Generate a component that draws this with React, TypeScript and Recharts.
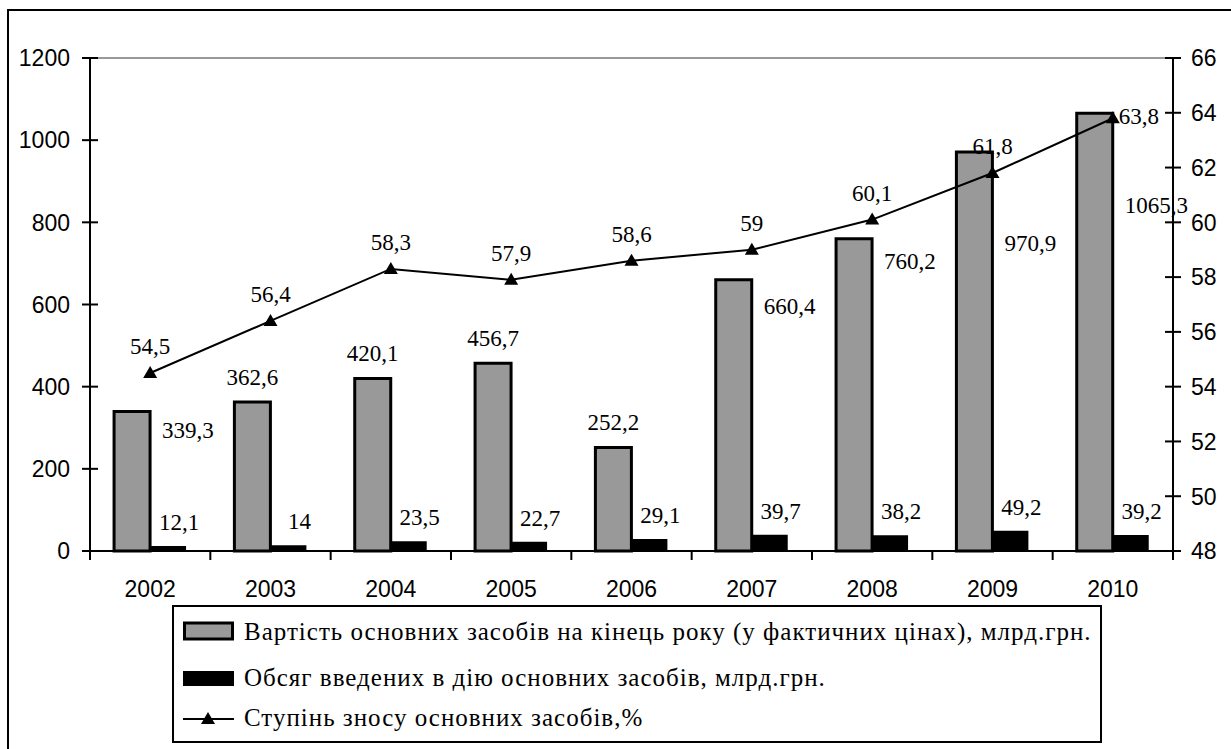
import React from "react";
import { ComposedChart, Bar, Line, XAxis, YAxis, LabelList, ReferenceLine } from "recharts";

const years = ["2002", "2003", "2004", "2005", "2006", "2007", "2008", "2009", "2010"];
const grossValue = [339.3, 362.6, 420.1, 456.7, 252.2, 660.4, 760.2, 970.9, 1065.3];
const commissioned = [12.1, 14, 23.5, 22.7, 29.1, 39.7, 38.2, 49.2, 39.2];
const depreciation = [54.5, 56.4, 58.3, 57.9, 58.6, 59, 60.1, 61.8, 63.8];
const leftTicks = [0, 200, 400, 600, 800, 1000, 1200];
const rightTicks = [48, 50, 52, 54, 56, 58, 60, 62, 64, 66];
const seriesNames = [
    "Вартість основних засобів на кінець року (у фактичних цінах), млрд.грн.",
    "Обсяг введених в дію основних засобів, млрд.грн.",
    "Ступінь зносу основних засобів,%",
];

// label placement for the grey bars: null = above the bar, number = to the right, that far below the top
const grossLabelDrop: (number | null)[] = [18, null, null, null, null, 26, 22, 91, 92];

const data = years.map((year, i) => ({
    year,
    gross: grossValue[i],
    added: commissioned[i],
    wear: depreciation[i],
}));

const W = 1231;
const H = 749;
const PLOT_L = 90;
const PLOT_R = 1173;
const PLOT_T = 58;
const PLOT_B = 551;
const PLOT_W = PLOT_R - PLOT_L;

const SANS = "'Liberation Sans', Arial, sans-serif";
const SERIF = "'Liberation Serif', 'Times New Roman', serif";
const fmt = (v: number) => String(v).replace(".", ",");

function box(p: any) {
    const vb = p.viewBox || {};
    return {
        x: p.x ?? vb.x ?? 0,
        y: p.y ?? vb.y ?? 0,
        width: p.width ?? vb.width ?? 0,
        height: p.height ?? vb.height ?? 0,
    };
}

const XTick = (props: any) => {
    const { x, y, payload } = props;
    const bw = PLOT_W / years.length;
    const last = payload.value === years[years.length - 1];
    return (
        <g>
            <line x1={x - bw / 2} x2={x - bw / 2} y1={y} y2={y + 9} stroke="#000" strokeWidth={2} />
            {last && <line x1={x + bw / 2} x2={x + bw / 2} y1={y} y2={y + 9} stroke="#000" strokeWidth={2} />}
            <text x={x} y={y + 46} textAnchor="middle" fontFamily={SANS} fontSize={23} fill="#000">
                {payload.value}
            </text>
        </g>
    );
};

const LeftTick = (props: any) => {
    const { x, y, payload } = props;
    return (
        <g>
            <line x1={x - 8} x2={x + 8} y1={y} y2={y} stroke="#000" strokeWidth={2} />
            <text x={x - 20} y={y} dy="0.36em" textAnchor="end" fontFamily={SANS} fontSize={23} fill="#000">
                {payload.value}
            </text>
        </g>
    );
};

const RightTick = (props: any) => {
    const { x, y, payload } = props;
    return (
        <g>
            <line x1={x - 8} x2={x + 8} y1={y} y2={y} stroke="#000" strokeWidth={2} />
            <text x={x + 18} y={y} dy="0.36em" textAnchor="start" fontFamily={SANS} fontSize={23} fill="#000">
                {payload.value}
            </text>
        </g>
    );
};

const GrossLabel = (props: any) => {
    const { x, y, width } = box(props);
    const idx = props.index ?? grossValue.indexOf(props.value);
    const drop = grossLabelDrop[idx];
    if (drop === null || drop === undefined) {
        return (
            <text x={x + width / 2} y={y - 25} dy="0.35em" textAnchor="middle" fontFamily={SERIF} fontSize={23} fill="#000">
                {fmt(props.value)}
            </text>
        );
    }
    return (
        <text x={x + width + 12} y={y + drop} dy="0.35em" textAnchor="start" fontFamily={SERIF} fontSize={23} fill="#000">
            {fmt(props.value)}
        </text>
    );
};

const AddedLabel = (props: any) => {
    const { x, y, width } = box(props);
    return (
        <text x={x + width / 2 + 11} y={y - 24} dy="0.35em" textAnchor="middle" fontFamily={SERIF} fontSize={23} fill="#000">
            {fmt(props.value)}
        </text>
    );
};

const WearLabel = (props: any) => {
    const { x, y } = box(props);
    const idx = props.index ?? depreciation.indexOf(props.value);
    if (idx === depreciation.length - 1) {
        return (
            <text x={x + 6} y={y - 2} dy="0.35em" textAnchor="start" fontFamily={SERIF} fontSize={23} fill="#000">
                {fmt(props.value)}
            </text>
        );
    }
    return (
        <text x={x} y={y - 27} dy="0.35em" textAnchor="middle" fontFamily={SERIF} fontSize={23} fill="#000">
            {fmt(props.value)}
        </text>
    );
};

const Triangle = (props: any) => {
    const { cx, cy } = props;
    if (cx == null || cy == null) return null;
    return <polygon points={`${cx},${cy - 7} ${cx - 7},${cy + 5} ${cx + 7},${cy + 5}`} fill="#000" />;
};

const Legend = () => (
    <div
        style={{
            position: "absolute",
            left: 172,
            top: 605,
            width: 926,
            height: 134,
            border: "2px solid #000",
            background: "#fff",
            fontFamily: SERIF,
            fontSize: 25,
            letterSpacing: "1px",
            color: "#000",
        }}
    >
        {seriesNames.map((name, i) => (
            <div
                key={name}
                style={{
                    position: "absolute",
                    left: 9,
                    top: [25, 71, 111][i] - 16,
                    height: 32,
                    display: "flex",
                    alignItems: "center",
                    whiteSpace: "nowrap",
                }}
            >
                <svg width={52} height={22} style={{ marginRight: 9 }}>
                    {i === 0 && <rect x={1.5} y={2} width={48} height={16} fill="#999" stroke="#000" strokeWidth={3} />}
                    {i === 1 && <rect x={0} y={4} width={51} height={15} fill="#000" />}
                    {i === 2 && (
                        <g>
                            <line x1={0} x2={51} y1={12} y2={12} stroke="#000" strokeWidth={2} />
                            <Triangle cx={25} cy={12} />
                        </g>
                    )}
                </svg>
                <span>{name}</span>
            </div>
        ))}
    </div>
);

export default function App() {
    return (
        <div style={{ position: "absolute", left: 0, top: 0, width: W, height: H, overflow: "hidden", background: "#fff" }}>
            <div
                style={{
                    position: "absolute",
                    left: 7,
                    top: 9,
                    width: W,
                    height: H + 20,
                    border: "2px solid #000",
                    boxSizing: "border-box",
                }}
            />
            <ComposedChart
                width={W}
                height={H}
                data={data}
                margin={{ top: PLOT_T, right: 0, left: 0, bottom: H - PLOT_B - 40 }}
                barCategoryGap="20%"
                barGap={0}
                style={{ position: "absolute", left: 0, top: 0 }}
            >
                <XAxis
                    dataKey="year"
                    height={40}
                    interval={0}
                    axisLine={{ stroke: "#000", strokeWidth: 2 }}
                    tickLine={false}
                    tickSize={0}
                    tickMargin={0}
                    tick={<XTick />}
                />
                <YAxis
                    yAxisId="left"
                    width={PLOT_L}
                    domain={[0, 1200]}
                    ticks={leftTicks}
                    interval={0}
                    axisLine={{ stroke: "#000", strokeWidth: 2 }}
                    tickLine={false}
                    tickSize={0}
                    tickMargin={0}
                    tick={<LeftTick />}
                />
                <YAxis
                    yAxisId="right"
                    orientation="right"
                    width={W - PLOT_R}
                    domain={[48, 66]}
                    ticks={rightTicks}
                    interval={0}
                    axisLine={{ stroke: "#000", strokeWidth: 2 }}
                    tickLine={false}
                    tickSize={0}
                    tickMargin={0}
                    tick={<RightTick />}
                />
                <ReferenceLine yAxisId="left" y={1200} stroke="#999" strokeWidth={2} />
                <Bar yAxisId="left" dataKey="gross" name={seriesNames[0]} fill="#999" stroke="#000" strokeWidth={3} isAnimationActive={false}>
                    <LabelList dataKey="gross" content={<GrossLabel />} />
                </Bar>
                <Bar yAxisId="left" dataKey="added" name={seriesNames[1]} fill="#000" isAnimationActive={false}>
                    <LabelList dataKey="added" content={<AddedLabel />} />
                </Bar>
                <Line
                    yAxisId="right"
                    dataKey="wear"
                    name={seriesNames[2]}
                    stroke="#000"
                    strokeWidth={2}
                    dot={<Triangle />}
                    activeDot={false}
                    isAnimationActive={false}
                >
                    <LabelList dataKey="wear" content={<WearLabel />} />
                </Line>
            </ComposedChart>
            <Legend />
        </div>
    );
}
